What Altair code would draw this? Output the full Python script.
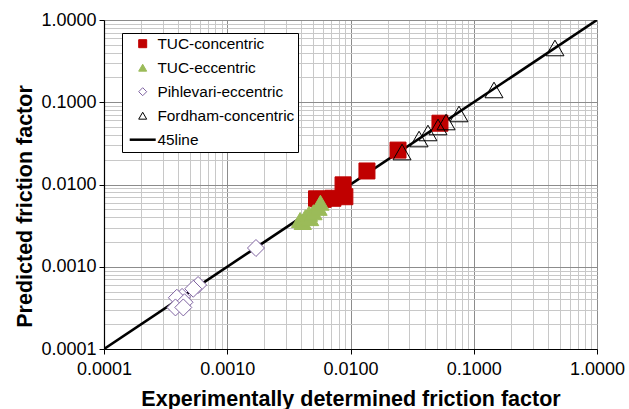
import altair as alt
import pandas as pd

series_names = ["TUC-concentric", "TUC-eccentric", "Pihlevari-eccentric", "Fordham-concentric", "45line"]

tuc_con_x = [0.0532, 0.0243, 0.0136, 0.0087, 0.0090, 0.0072, 0.0060, 0.0053]
tuc_con_y = [0.0556, 0.0262, 0.0146, 0.0099, 0.0071, 0.0068, 0.0066, 0.0067]

tuc_ecc_x = [0.0039, 0.0041, 0.0043, 0.0046, 0.0047, 0.0050, 0.0055, 0.0057]
tuc_ecc_y = [0.0037, 0.0035, 0.0040, 0.0044, 0.0039, 0.0046, 0.0052, 0.0060]

pih_x = [0.00171, 0.00058, 0.00053, 0.00043, 0.00039, 0.00045, 0.00038, 0.00044]
pih_y = [0.00169, 0.00060, 0.00054, 0.00043, 0.00042, 0.00037, 0.00032, 0.00032]

ford_x = [0.456, 0.146, 0.0759, 0.0596, 0.0513, 0.0425, 0.0360, 0.0262]
ford_y = [0.457, 0.141, 0.0720, 0.0575, 0.0500, 0.0423, 0.0357, 0.0248]

line_x = [0.0001, 1.0]
line_y = [0.0001, 1.0]

fill_colors = ["#C00000", "#9BBB59", "#FFFFFF", "transparent", "#000000"]
stroke_colors = ["#C00000", "#9BBB59", "#8064A2", "#000000", "#000000"]
shapes = ["square", "triangle-up", "diamond", "triangle-up", "stroke"]

tick_values = [m * 10.0 ** e for e in range(-4, 0) for m in range(1, 10)] + [1.0]

def frame(name, xs, ys):
    return pd.DataFrame({"series": [name] * len(xs), "exp": xs, "pred": ys})

FONT = "Liberation Sans"
decade = "abs(log(datum.value)/LN10 - round(log(datum.value)/LN10)) < 0.001"

def make_axis(title, is_x):
    extra = {} if is_x else {"titleY": 186}
    return alt.Axis(
        title=title,
        values=tick_values,
        labelExpr=f"({decade}) ? datum.label : ''",
        format=".4f",
        labelOverlap=False,
        labelFlush=False,
        labelFont=FONT,
        labelFontSize=18,
        labelColor="#000000",
        labelPadding=6 if is_x else 3,
        titleFont=FONT,
        titleFontSize=21.5,
        titleFontWeight="bold",
        titleColor="#000000",
        titlePadding=10 if is_x else 4,
        tickSize=5,
        tickColor="#000000",
        tickOpacity={"condition": {"test": decade, "value": 1}, "value": 0},
        domainColor="#000000",
        domainWidth=1.2,
        grid=True,
        gridColor={"condition": {"test": decade, "value": "#8c8c8c"}, "value": "#c8c8c8"},
        gridWidth=1,
        **extra,
    )

xscale = alt.Scale(type="log", domain=[0.0001, 1.0], nice=False)
yscale = alt.Scale(type="log", domain=[0.0001, 1.0], nice=False)

X = alt.X("exp:Q", scale=xscale, axis=make_axis("Experimentally determined friction factor", True))
Y = alt.Y("pred:Q", scale=yscale, axis=make_axis("Predicted friction factor", False))

legend = alt.Legend(
    title=None,
    orient="none",
    legendX=18,
    legendY=13,
    fillColor="#FFFFFF",
    strokeColor="#000000",
    padding=3,
    labelFont=FONT,
    labelFontSize=15.4,
    labelColor="#000000",
    labelOffset=7,
    symbolOffset=10,
    rowPadding=7,
    symbolSize={"expr": "datum.value == '45line' ? 676 : 64"},
    symbolStrokeWidth={"expr": "datum.value == '45line' ? 2.5 : 1"},
)

FILL = alt.Fill("series:N", scale=alt.Scale(domain=series_names, range=fill_colors), legend=legend)
STROKE = alt.Stroke("series:N", scale=alt.Scale(domain=series_names, range=stroke_colors), legend=legend)
SHAPE = alt.Shape("series:N", scale=alt.Scale(domain=series_names, range=shapes), legend=legend)

line_layer = alt.Chart(frame("45line", line_x, line_y)).mark_line(strokeWidth=2.6, clip=True).encode(
    x=X, y=Y, stroke=STROKE
)

def point_layer(df, size):
    return alt.Chart(df).mark_point(size=size, filled=True, opacity=1, strokeWidth=1).encode(
        x=X, y=Y, fill=FILL, stroke=STROKE, shape=SHAPE
    )

chart = alt.layer(
    line_layer,
    point_layer(frame("TUC-concentric", tuc_con_x, tuc_con_y), 256),
    point_layer(frame("TUC-eccentric", tuc_ecc_x, tuc_ecc_y), 300),
    point_layer(frame("Pihlevari-eccentric", pih_x, pih_y), 289),
    point_layer(frame("Fordham-concentric", ford_x, ford_y), 324),
).properties(
    width=493,
    height=329,
    autosize=alt.AutoSizeParams(type="none"),
    padding={"left": 104, "top": 20, "right": 32, "bottom": 60},
    background="#FFFFFF",
).configure_view(stroke="#404040", strokeWidth=1)

chart.save("out.html", embed_options={"renderer": "svg", "actions": False})
